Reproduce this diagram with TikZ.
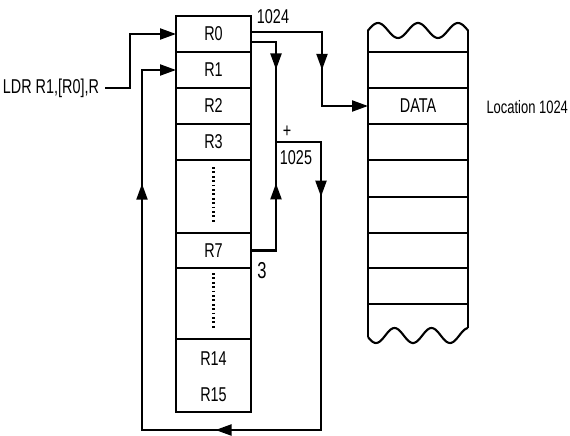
\documentclass[tikz,border=0pt]{standalone}
\usepackage{fontspec}
\setmainfont{Liberation Sans}[FakeStretch=0.72]
\usepackage{tikz}
\usetikzlibrary{
  arrows.meta,
  positioning,
  calc,
  decorations.markings
}

\tikzset{
  >={Triangle[length=16pt,width=11pt]},
  lbl/.style={font=\fontsize{20}{21}\selectfont, inner sep=0pt},
  regcell/.style={draw, lbl, minimum width=75pt, outer sep=0pt},
  memcell/.style={lbl, minimum width=100pt, minimum height=36pt, outer sep=0pt},
  midtip/.style={postaction={decorate, decoration={markings, mark=at position #1 with {\arrow{>}}}}},
  dotcol/.style={line width=2.6pt, dash pattern=on 1.8pt off 2.6pt}
}

\begin{document}
\begin{tikzpicture}[x=1pt, y=-1pt, line width=2.1pt]
  \useasboundingbox (0,0) rectangle (570,436);

  \foreach \name/\lbl/\top/\bot in {r0/R0/16/52, r1/R1/52/88, r2/R2/88/124, r3/R3/124/160,
      dotsa/{}/160/233, r7/R7/233/268, dotsb/{}/268/339, rlast/{}/339/412}{
    \pgfmathsetmacro{\hh}{\bot-\top}
    \node[regcell, minimum height=\hh pt] (\name) at (213.5, {(\top+\bot)/2}) {\lbl};
  }
  \node[lbl] (r14) at (213.5,359) {R14};
  \node[lbl] (r15) at (213.5,395) {R15};
  \draw[dotcol] ([yshift=-7pt]dotsa.north) -- ([yshift=11pt]dotsa.south);
  \draw[dotcol] ([yshift=-5pt]dotsb.north) -- ([yshift=9pt]dotsb.south);

  \draw plot[domain=368:468, samples=80] (\x, {30.5-7.5*cos(9*(\x-378))});
  \draw plot[domain=368:468, samples=80] (\x, {335.5+7.5*cos(9.73*(\x-376))});
  \draw (368,30.5) -- (368,337.1);
  \draw (468,30.5) -- (468,328.1);
  \foreach \y in {52,88,124,160,197,233,268,304}{
    \draw (368,\y) -- (468,\y);
  }
  \node[memcell] (data) at (418,106) {DATA};
  \node[lbl, font=\fontsize{18}{19}\selectfont, anchor=east] (loc) at (569,107) {Location 1024};

  \node[lbl, anchor=east] (instr) at (100,88) {LDR R1,[R0],R};
  \coordinate (ldrbend) at (130,88);
  \coordinate (bus) at (322,106);
  \coordinate (adder) at (276,142);
  \coordinate (loopr) at (321,430);
  \coordinate (loopl) at (142,430);

  \draw[->] ([xshift=5pt]instr.east) -- (ldrbend) |- (r0.west);
  \draw[->, midtip=0.57] ([yshift=2pt]r0.east) -| (bus) -- (data.west);
  \draw[midtip=0.42] ([yshift=-8pt]r0.east) -| (adder);
  \draw[midtip=0.69] (r7.east) -| (adder);
  \draw[->, midtip=0.11, midtip=0.484, midtip=0.837] (adder) -| (loopr) -- (loopl) |- (r1.west);

  \node[lbl] (lbla) at (273,17) {1024};
  \node[lbl] (lblplus) at (287,132) {+};
  \node[lbl] (lblb) at (296,158) {1025};
  \node[lbl, font=\fontsize{23}{23}\selectfont] (lblc) at (262,271) {3};
\end{tikzpicture}
\end{document}
